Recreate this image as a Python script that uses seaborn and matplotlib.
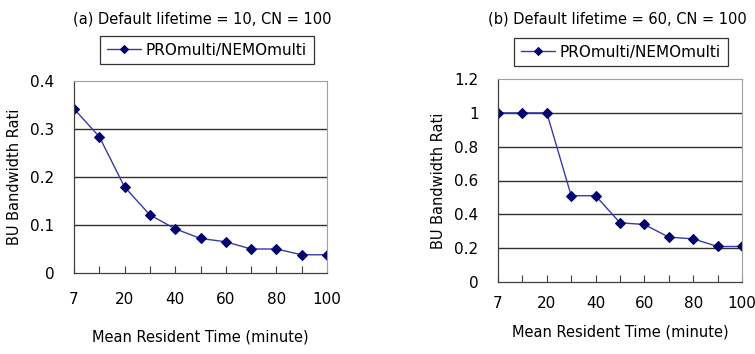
import matplotlib
matplotlib.use("Agg")
import matplotlib.pyplot as plt
import seaborn as sns
import pandas as pd

sns.set_theme(style="white")
plt.rcParams['font.family'] = ['DejaVu Sans']
plt.rcParams['text.color'] = 'black'
plt.rcParams['axes.labelcolor'] = 'black'
plt.rcParams['xtick.color'] = 'black'
plt.rcParams['ytick.color'] = 'black'

categories = ["7", "10", "20", "30", "40", "50", "60", "70", "80", "90", "100"]
shown_labels = ["7", "", "20", "", "40", "", "60", "", "80", "", "100"]
vals_a = [0.342, 0.284, 0.179, 0.121, 0.092, 0.072, 0.065, 0.050, 0.050, 0.038, 0.038]
vals_b = [1.0, 1.0, 1.0, 0.51, 0.51, 0.35, 0.34, 0.265, 0.255, 0.21, 0.21]
series_name = "PROmulti/NEMOmulti"
titles = ["(a) Default lifetime = 10, CN = 100", "(b) Default lifetime = 60, CN = 100"]
yticks_a = [0, 0.1, 0.2, 0.3, 0.4]
ytick_labels_a = ["0", "0.1", "0.2", "0.3", "0.4"]
yticks_b = [0, 0.2, 0.4, 0.6, 0.8, 1.0, 1.2]
ytick_labels_b = ["0", "0.2", "0.4", "0.6", "0.8", "1", "1.2"]

fig = plt.figure(figsize=(7.55, 3.54), dpi=100)
ax_a = fig.add_axes([74/755, 1-273/354, (327-74)/755, (273-81)/354])
ax_b = fig.add_axes([498/755, 1-282/354, (742-498)/755, (282-79)/354])

FS = 10.5
line_color = "#3a3aa8"
marker_color = "#00006e"

def draw(ax, vals, yticks, ylabels, title, leg_center, title_y, xtl_pad, xlab_pad):
    df = pd.DataFrame({"x": categories, "y": vals, "s": series_name})
    sns.lineplot(data=df, x="x", y="y", ax=ax, color=line_color, lw=1.0,
                 marker="D", markersize=5.5, markerfacecolor=marker_color,
                 markeredgecolor=marker_color, sort=False, label=series_name)
    ax.set_xlim(0, len(categories) - 1)
    ax.set_ylim(yticks[0], yticks[-1])
    ax.set_yticks(yticks)
    ax.set_yticklabels(ylabels, fontsize=FS + 0.5)
    ax.set_xticks(range(len(categories)))
    ax.set_xticklabels(shown_labels, fontsize=FS + 0.5)
    ax.tick_params(axis="x", direction="in", length=5, width=0.8, color="#404040",
                   pad=xtl_pad, bottom=True)
    ax.tick_params(axis="y", length=0, pad=14)
    for yv in yticks[1:-1]:
        ax.axhline(yv, color="#303030", lw=1.0, zorder=0)
    for s in ["top", "right"]:
        ax.spines[s].set_color("#a0a0a0")
        ax.spines[s].set_linewidth(0.8)
    for s in ["left", "bottom"]:
        ax.spines[s].set_color("#404040")
        ax.spines[s].set_linewidth(0.9)
    ax.set_xlabel("Mean Resident Time (minute)", fontsize=FS, labelpad=xlab_pad)
    ax.set_ylabel("BU Bandwidth Rati", fontsize=FS, labelpad=6)
    leg = ax.legend(loc="center", bbox_to_anchor=leg_center, bbox_transform=fig.transFigure,
                    fontsize=FS + 0.5, frameon=True, fancybox=False, handlelength=2.2,
                    borderpad=0.45, handletextpad=0.3)
    leg.get_frame().set_edgecolor("black")
    leg.get_frame().set_linewidth(0.9)
    for h in leg.legend_handles:
        h.set_markersize(4.5)
    fig.text(title_y[0], title_y[1], title, ha="center", va="center", fontsize=FS)

draw(ax_a, vals_a, yticks_a, ytick_labels_a, titles[0], (207/755, 1-50/354), (202/755, 1-19/354), 14, 16)
draw(ax_b, vals_b, yticks_b, ytick_labels_b, titles[1], (621/755, 1-52/354), (617/755, 1-19/354), 10, 10)

fig.savefig("out.png", dpi=100)
